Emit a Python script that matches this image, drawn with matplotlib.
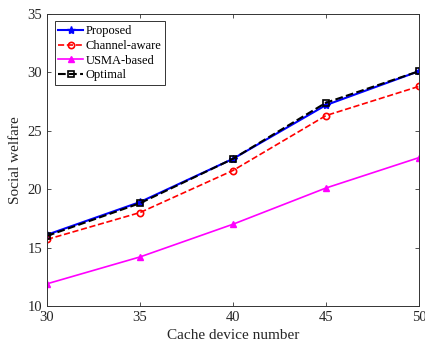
import matplotlib
matplotlib.use("Agg")
import matplotlib.pyplot as plt

x = [30, 35, 40, 45, 50]
proposed = [16.1, 18.9, 22.6, 27.2, 30.1]
channel_aware = [15.7, 18.0, 21.6, 26.3, 28.8]
usma = [11.9, 14.2, 17.0, 20.1, 22.7]
optimal = [16.0, 18.8, 22.6, 27.4, 30.1]

plt.rcParams['font.family'] = ['Liberation Serif', 'DejaVu Serif']

fig = plt.figure(figsize=(4.25, 3.46), dpi=100)
ax = fig.add_axes([0.1106, 0.1156, 0.875, 0.844])

ax.plot(x, proposed, '-', color='#0000ff', marker='*', ms=6, lw=1.5, label='Proposed')
ax.plot(x, channel_aware, '--', color='#ff0000', marker='o', ms=4.5, mfc='none', mew=1.2, lw=1.2, label='Channel-aware')
ax.plot(x, usma, '-', color='#ff00ff', marker='^', ms=5, lw=1.2, label='USMA-based')
ax.plot(x, optimal, '--', color='black', marker='s', ms=4.5, mfc='none', mew=1.2, lw=1.5, label='Optimal')

ax.set_xlim(30, 50)
ax.set_ylim(10, 35)
ax.set_xticks([30, 35, 40, 45, 50])
ax.set_yticks([10, 15, 20, 25, 30, 35])
ax.tick_params(direction='in', top=True, right=True, labelsize=10.5, length=3, width=0.6,
               color='#333333', labelcolor='#262626')
for s in ax.spines.values():
    s.set_linewidth(0.7)
    s.set_color('#333333')
ax.set_xlabel('Cache device number', fontsize=11, labelpad=4, color='#262626')
ax.set_ylabel('Social welfare', fontsize=11, labelpad=4, color='#262626')

leg = ax.legend(loc='upper left', fontsize=9, frameon=True, fancybox=False, edgecolor='black',
                handlelength=2.0, handletextpad=0.2, borderpad=0.3, labelspacing=0.22,
                borderaxespad=0.6)
leg.get_frame().set_linewidth(0.7)

fig.savefig('out.png', dpi=100)
